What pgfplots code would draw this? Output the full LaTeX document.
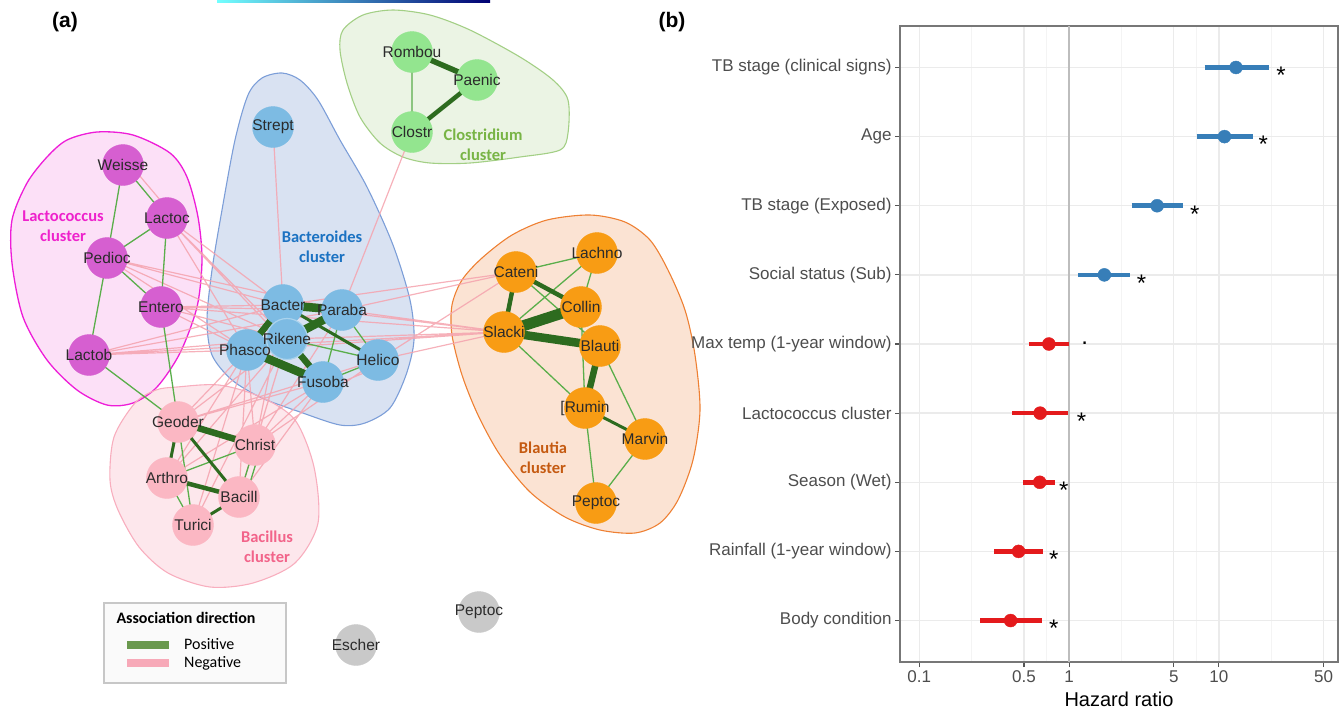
\documentclass[border=0pt]{standalone}
\usepackage{pgfplots}
\pgfplotsset{compat=1.18}
\usepackage{fontspec}
\setmainfont{Liberation Sans}
\newfontfamily\carlito{Carlito}
% node colours
\definecolor{lacN}{HTML}{D65FD0}
\definecolor{bacN}{HTML}{7DBBE3}
\definecolor{cloN}{HTML}{93E58F}
\definecolor{blaN}{HTML}{F89C14}
\definecolor{bciN}{HTML}{FBB7C3}
\definecolor{greyN}{HTML}{C9C9C9}
% hull fills / borders / labels
\definecolor{lacF}{HTML}{FBD6F4}\definecolor{lacB}{HTML}{EE1DD8}\definecolor{lacL}{HTML}{EE22CC}
\definecolor{bacF}{HTML}{CCD8EE}\definecolor{bacB}{HTML}{7C9ED8}\definecolor{bacL}{HTML}{1B72C2}
\definecolor{cloF}{HTML}{E4F0DB}\definecolor{cloB}{HTML}{A3CF85}\definecolor{cloL}{HTML}{78B445}
\definecolor{blaF}{HTML}{FADAC4}\definecolor{blaB}{HTML}{EE8033}\definecolor{blaL}{HTML}{C55A11}
\definecolor{bciF}{HTML}{FCDFE6}\definecolor{bciB}{HTML}{F8AEBE}\definecolor{bciL}{HTML}{F2648A}
% edges
\definecolor{negE}{HTML}{F5A3AE}
\definecolor{posE}{HTML}{5AAE4B}
\definecolor{posT}{HTML}{2D6B1F}
\definecolor{posLeg}{HTML}{6A994E}
\definecolor{negLeg}{HTML}{F7A9B8}
% forest plot
\definecolor{sblue}{HTML}{377EB8}
\definecolor{sred}{HTML}{E41A1C}
\definecolor{gridc}{HTML}{EBEBEB}
\definecolor{gridm}{HTML}{F4F4F4}
\definecolor{framec}{HTML}{777777}
\definecolor{tickc}{HTML}{555555}
\definecolor{labc}{HTML}{4D4D4D}
\definecolor{vline}{HTML}{BDBDBD}
\definecolor{nlab}{HTML}{2B2B2B}

\begin{document}
\begin{tikzpicture}
\useasboundingbox (0,0) rectangle (1343bp,-710bp);
\shade[left color=cyan!55, right color=blue!45!black] (217bp,0) rectangle (490bp,-2bp);
\node[font=\bfseries\fontsize{21bp}{24bp}\selectfont] at (65bp,-22bp) {(a)};
\node[font=\bfseries\fontsize{21bp}{24bp}\selectfont] at (672bp,-22bp) {(b)};

%================ (a) network ================
\begin{axis}[
  at={(0,0)}, anchor=north west, scale only axis,
  width=660bp, height=710bp,
  xmin=0, xmax=660, ymin=0, ymax=710, y dir=reverse,
  hide axis, clip=false, unbounded coords=jump,
  legend style={draw=none, fill=none, at={(axis cs:120,635)}, anchor=north west,
    font=\carlito\fontsize{16bp}{18bp}\selectfont, row sep=2.5bp,
    nodes={inner sep=1.5bp}},
  legend cell align=left,
]
\addlegendimage{legend image code/.code={\draw[posLeg, line width=8.5bp] (0bp,0bp) -- (42bp,0bp);}}
\addlegendentry{\hspace*{9bp}Positive}
\addlegendimage{legend image code/.code={\draw[negLeg, line width=8.5bp] (0bp,0bp) -- (42bp,0bp);}}
\addlegendentry{\hspace*{9bp}Negative}

% hull fills
\addplot[draw=none, fill=lacF, fill opacity=0.75, smooth cycle] coordinates {(67,140) (97,132) (133,135) (170,153) (187,177) (198,217) (202,260) (197,307) (180,353) (157,387) (133,403) (107,405) (77,390) (47,360) (23,317) (12,263) (12,220) (27,183) (47,157)};
\addplot[draw=none, fill=bacF, fill opacity=0.75, smooth cycle] coordinates {(282,73) (300,80) (318,100) (340,140) (367,187) (393,245) (410,300) (414,340) (406,375) (390,408) (365,423) (340,425) (300,412) (262,398) (232,380) (212,355) (207,320) (212,270) (222,210) (235,140) (248,95) (262,78)};
\addplot[draw=none, fill=bciF, fill opacity=0.75, smooth cycle] coordinates {(177,387) (219,385) (261,397) (295,420) (314,467) (318,523) (295,563) (253,583) (210,587) (168,573) (139,547) (118,510) (110,480) (114,437) (135,403) (156,390)};
\addplot[draw=none, fill=cloF, fill opacity=0.75, smooth cycle] coordinates {(343,30) (363,15) (393,10) (430,15) (470,30) (520,57) (553,80) (568,100) (568,133) (560,150) (520,157) (470,163) (430,163) (403,157) (380,143) (360,117) (347,83) (340,50)};
\addplot[draw=none, fill=blaF, fill opacity=0.75, smooth cycle] coordinates {(547,220) (590,215) (625,222) (650,240) (668,270) (685,310) (695,355) (700,410) (693,460) (678,500) (660,523) (635,533) (600,530) (565,517) (530,492) (500,455) (478,415) (462,375) (452,335) (452,305) (462,280) (482,258) (512,235)};
% hull borders
\addplot[draw=lacB, line width=1.3bp, smooth cycle] coordinates {(67,140) (97,132) (133,135) (170,153) (187,177) (198,217) (202,260) (197,307) (180,353) (157,387) (133,403) (107,405) (77,390) (47,360) (23,317) (12,263) (12,220) (27,183) (47,157)};
\addplot[draw=bacB, line width=1.1bp, smooth cycle] coordinates {(282,73) (300,80) (318,100) (340,140) (367,187) (393,245) (410,300) (414,340) (406,375) (390,408) (365,423) (340,425) (300,412) (262,398) (232,380) (212,355) (207,320) (212,270) (222,210) (235,140) (248,95) (262,78)};
\addplot[draw=bciB, line width=1.1bp, smooth cycle] coordinates {(177,387) (219,385) (261,397) (295,420) (314,467) (318,523) (295,563) (253,583) (210,587) (168,573) (139,547) (118,510) (110,480) (114,437) (135,403) (156,390)};
\addplot[draw=cloB, line width=1.1bp, smooth cycle] coordinates {(343,30) (363,15) (393,10) (430,15) (470,30) (520,57) (553,80) (568,100) (568,133) (560,150) (520,157) (470,163) (430,163) (403,157) (380,143) (360,117) (347,83) (340,50)};
\addplot[draw=blaB, line width=1.1bp, smooth cycle] coordinates {(547,220) (590,215) (625,222) (650,240) (668,270) (685,310) (695,355) (700,410) (693,460) (678,500) (660,523) (635,533) (600,530) (565,517) (530,492) (500,455) (478,415) (462,375) (452,335) (452,305) (462,280) (482,258) (512,235)};

% negative edges
\addplot[draw=negE, line width=1.2bp, draw opacity=0.85] coordinates {
(128,162) (172,214) (nan,nan)
(273,127) (283,305) (nan,nan)
(412,132) (342,310) (nan,nan)
(167,218) (283,305) (nan,nan)
(167,218) (247,350) (nan,nan)
(167,218) (287,339) (nan,nan)
(167,218) (323,382) (nan,nan)
(107,258) (283,305) (nan,nan)
(107,258) (287,339) (nan,nan)
(107,258) (247,350) (nan,nan)
(107,258) (342,310) (nan,nan)
(161,307) (283,305) (nan,nan)
(161,307) (247,350) (nan,nan)
(161,307) (287,339) (nan,nan)
(161,307) (342,310) (nan,nan)
(161,307) (504,332) (nan,nan)
(89,355) (283,305) (nan,nan)
(89,355) (342,310) (nan,nan)
(89,355) (287,339) (nan,nan)
(89,355) (247,350) (nan,nan)
(89,355) (504,332) (nan,nan)
(283,305) (516,272) (nan,nan)
(342,310) (516,272) (nan,nan)
(342,310) (504,332) (nan,nan)
(283,305) (504,332) (nan,nan)
(287,339) (504,332) (nan,nan)
(378,360) (504,332) (nan,nan)
(378,360) (516,272) (nan,nan)
(247,350) (504,332) (nan,nan)
(247,350) (178,422) (nan,nan)
(247,350) (255,445) (nan,nan)
(247,350) (167,478) (nan,nan)
(247,350) (239,497) (nan,nan)
(247,350) (193,525) (nan,nan)
(287,339) (178,422) (nan,nan)
(287,339) (255,445) (nan,nan)
(287,339) (167,478) (nan,nan)
(287,339) (193,525) (nan,nan)
(287,339) (239,497) (nan,nan)
(283,305) (255,445) (nan,nan)
(323,382) (178,422) (nan,nan)
(323,382) (255,445) (nan,nan)
(323,382) (167,478) (nan,nan)
(323,382) (239,497) (nan,nan)
(378,360) (255,445) (nan,nan)
(342,310) (255,445) (nan,nan)
(378,360) (178,422) (nan,nan)
(327,388) (381,366)
};
% thin positive edges
\addplot[draw=posE, line width=1.3bp] coordinates {
(123,165) (107,258) (nan,nan)
(123,165) (167,218) (nan,nan)
(167,218) (107,258) (nan,nan)
(167,218) (161,307) (nan,nan)
(107,258) (161,307) (nan,nan)
(107,258) (89,355) (nan,nan)
(89,355) (178,422) (nan,nan)
(161,307) (178,422) (nan,nan)
(412,52) (412,132) (nan,nan)
(287,339) (378,360) (nan,nan)
(342,310) (323,382) (nan,nan)
(342,310) (378,360) (nan,nan)
(323,382) (378,360) (nan,nan)
(516,272) (597,253) (nan,nan)
(504,332) (597,253) (nan,nan)
(597,253) (581,307) (nan,nan)
(516,272) (600,346) (nan,nan)
(504,332) (585,408) (nan,nan)
(581,307) (585,408) (nan,nan)
(600,346) (645,439) (nan,nan)
(585,408) (596,503) (nan,nan)
(645,439) (596,503) (nan,nan)
(167,478) (255,445) (nan,nan)
(167,478) (193,525) (nan,nan)
(178,422) (193,525) (nan,nan)
(255,445) (239,497) (nan,nan)
(261,447) (245,499)
};
% strong positive edges
\addplot[draw=posT, line width=3bp] coordinates {
(283,305) (378,360) (nan,nan)
(585,408) (645,439) (nan,nan)
(178,422) (239,497) (nan,nan)
(178,422) (167,478) (nan,nan)
(239,497) (193,525)
};
\addplot[draw=posT, line width=4.5bp] coordinates {
(477,80) (412,132) (nan,nan)
(516,272) (581,307) (nan,nan)
(516,272) (504,332) (nan,nan)
(167,478) (239,497)
};
\addplot[draw=posT, line width=5.5bp] coordinates {(412,52) (477,80)};
\addplot[draw=posT, line width=6.5bp] coordinates {
(283,305) (247,350) (nan,nan)
(287,339) (323,382) (nan,nan)
(178,422) (255,445) (nan,nan)
(600,346) (585,408)
};
\addplot[draw=posT, line width=8.5bp] coordinates {
(283,305) (342,310) (nan,nan)
(342,310) (287,339) (nan,nan)
(247,350) (323,382) (nan,nan)
(504,332) (600,346)
};
\addplot[draw=posT, line width=11bp] coordinates {(504,332) (581,307)};

% nodes
\addplot[only marks, mark=*, mark size=20.5bp, color=lacN] coordinates {(123,165) (167,218) (107,258) (161,307) (89,355)};
\addplot[only marks, mark=*, mark size=20.5bp, color=bciN] coordinates {(178,422) (255,445) (167,478) (239,497) (193,525)};
\addplot[only marks, mark=*, mark size=20.5bp, color=bacN] coordinates {(273,127) (283,305) (342,310) (247,350) (378,360) (323,382)};
\addplot[only marks, mark=*, mark size=20.5bp, mark options={draw=bacN!65!white, line width=1.2bp, fill=bacN}] coordinates {(287,339)};
\addplot[only marks, mark=*, mark size=20.5bp, color=cloN] coordinates {(412,52) (477,80) (412,132)};
\addplot[only marks, mark=*, mark size=20.5bp, color=blaN] coordinates {(516,272) (597,253) (581,307) (504,332) (600,346) (585,408) (645,439) (596,503)};
\addplot[only marks, mark=*, mark size=20.5bp, color=greyN] coordinates {(479,612) (356,645)};

% node labels
\addplot[only marks, mark=*, mark size=0.1bp, mark options={draw opacity=0, fill opacity=0},
  nodes near coords, point meta=explicit symbolic,
  every node near coord/.append style={anchor=center, inner sep=0pt, text=nlab, text opacity=1,
    font=\fontsize{15.5bp}{17bp}\selectfont}]
  table[x=x, y=y, meta=lab] {
x y lab
412 52 Rombou
477 80 Paenic
412 132 Clostr
273 127 Strept
123 165 Weisse
167 218 Lactoc
107 258 Pedioc
161 307 Entero
89 355 Lactob
283 305 Bacter
342 310 Paraba
287 339 Rikene
245 350 Phasco
378 360 Helico
323 382 Fusoba
516 272 Cateni
597 253 Lachno
581 307 Collin
504 332 Slacki
600 346 Blauti
585 408 [Rumin
645 439 Marvin
596 503 Peptoc
178 422 Geoder
255 445 Christ
167 478 Arthro
239 497 Bacill
193 525 Turici
479 612 Peptoc
356 645 Escher
};

% cluster labels
\node[align=center, text=lacL, font=\carlito\bfseries\fontsize{16.5bp}{20bp}\selectfont] at (axis cs:63,226) {Lactococcus\\cluster};
\node[align=center, text=bacL, font=\carlito\bfseries\fontsize{16.5bp}{20bp}\selectfont] at (axis cs:322,247) {Bacteroides\\cluster};
\node[align=center, text=cloL, font=\carlito\bfseries\fontsize{16.5bp}{20bp}\selectfont] at (axis cs:483,145) {Clostridium\\cluster};
\node[align=center, text=blaL, font=\carlito\bfseries\fontsize{16.5bp}{20bp}\selectfont] at (axis cs:543,458) {Blautia\\cluster};
\node[align=center, text=bciL, font=\carlito\bfseries\fontsize{16.5bp}{20bp}\selectfont] at (axis cs:267,547) {Bacillus\\cluster};

% legend box and title
\draw[draw=black!22, fill=black!2, line width=1.4bp] (axis cs:104,603) rectangle (axis cs:286,683);
\node[font=\carlito\bfseries\fontsize{16bp}{18bp}\selectfont] at (axis cs:186,618) {Association direction};
\end{axis}

%================ (b) forest plot ================
\begin{axis}[
  at={(900bp,-662bp)}, anchor=south west, scale only axis,
  width=438bp, height=636bp,
  xmode=log, xmin=0.07436, xmax=62.4, ymin=0.4, ymax=9.6,
  xtick={0.1,0.5,1,5,10,50}, xticklabels={0.1,0.5,1,5,10,50},
  minor xtick={0.2236,0.7071,2.236,7.071,22.36},
  ytick={1,2,3,4,5,6,7,8,9},
  yticklabels={Body condition,Rainfall (1-year window),Season (Wet),Lactococcus cluster,Max temp (1-year window),Social status (Sub),TB stage (Exposed),Age,TB stage (clinical signs)},
  xmajorgrids, ymajorgrids, xminorgrids,
  major grid style={draw=gridc, line width=1.4bp},
  minor grid style={draw=gridm, line width=0.9bp},
  axis line style={draw=framec, line width=1.1bp},
  tick pos=left, tick align=outside, major tick length=5bp, minor tick length=0bp,
  tick style={draw=tickc, line width=1.1bp},
  tick label style={font=\fontsize{17bp}{20bp}\selectfont, text=labc},
  xlabel={Hazard ratio},
  xlabel style={font=\fontsize{20bp}{24bp}\selectfont, text=black, yshift=-3bp},
]
\addplot[draw=vline, line width=1.6bp] coordinates {(1,0.4) (1,9.6)};
\addplot[draw=sblue, line width=4.5bp] coordinates {(8.02,9) (21.6,9)};
\addplot[draw=sblue, line width=4.5bp] coordinates {(7.1,8) (16.8,8)};
\addplot[draw=sblue, line width=4.5bp] coordinates {(2.61,7) (5.72,7)};
\addplot[draw=sblue, line width=4.5bp] coordinates {(1.145,6) (2.54,6)};
\addplot[draw=sred, line width=4.5bp] coordinates {(0.537,5) (1.0,5)};
\addplot[draw=sred, line width=4.5bp] coordinates {(0.416,4) (0.99,4)};
\addplot[draw=sred, line width=4.5bp] coordinates {(0.496,3) (0.805,3)};
\addplot[draw=sred, line width=4.5bp] coordinates {(0.317,2) (0.667,2)};
\addplot[draw=sred, line width=4.5bp] coordinates {(0.255,1) (0.658,1)};
\addplot[only marks, mark=*, mark size=6.5bp, color=sblue] coordinates {(13.0,9) (10.9,8) (3.87,7) (1.72,6)};
\addplot[only marks, mark=*, mark size=6.5bp, color=sred] coordinates {(0.733,5) (0.641,4) (0.637,3) (0.46,2) (0.407,1)};
\addplot[only marks, mark=*, mark size=0.1bp, mark options={draw opacity=0, fill opacity=0},
  nodes near coords, point meta=explicit symbolic,
  every node near coord/.append style={anchor=center, inner sep=0pt, yshift=-8bp, text=black, text opacity=1,
    font=\fontsize{24bp}{26bp}\selectfont}]
  table[x=x, y=y, meta=s] {
x y s
26.0 9 *
19.8 8 *
6.9 7 *
3.05 6 *
1.21 4 *
0.922 3 *
0.791 2 *
0.791 1 *
};
\addplot[only marks, mark=*, mark size=0.1bp, mark options={draw opacity=0, fill opacity=0},
  nodes near coords, point meta=explicit symbolic,
  every node near coord/.append style={anchor=center, inner sep=0pt, yshift=1bp, text=black, text opacity=1,
    font=\fontsize{24bp}{26bp}\selectfont}]
  table[x=x, y=y, meta=s] {
x y s
1.27 5 .
};
\end{axis}
\end{tikzpicture}
\end{document}
